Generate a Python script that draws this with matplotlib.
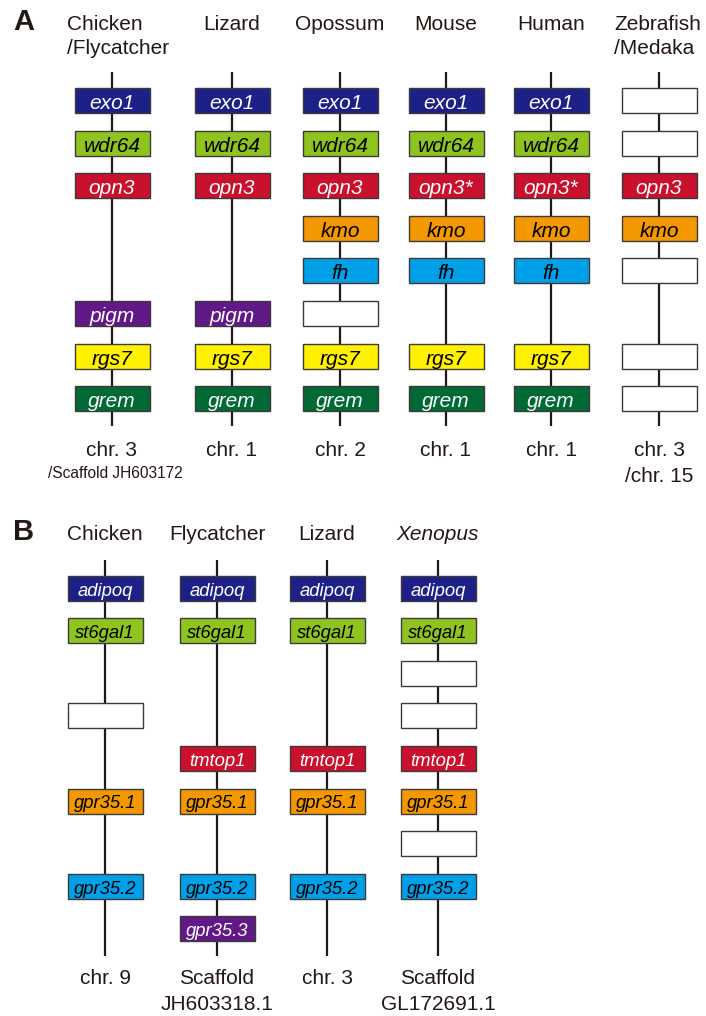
import matplotlib.pyplot as plt
from matplotlib.patches import Rectangle

plt.rcParams['font.family'] = ['Liberation Sans', 'DejaVu Sans']

# gene colours: (fill, text colour); None = unnamed gene (white box)
GENE_STYLE = {
    'exo1': ('#1d2087', 'white'), 'adipoq': ('#1d2087', 'white'),
    'wdr64': ('#8fc31f', 'black'), 'st6gal1': ('#8fc31f', 'black'),
    'opn3': ('#c9102c', 'white'), 'opn3*': ('#c9102c', 'white'),
    'tmtop1': ('#c9102c', 'white'),
    'kmo': ('#f39800', 'black'), 'gpr35.1': ('#f39800', 'black'),
    'fh': ('#00a0e9', 'black'), 'gpr35.2': ('#00a0e9', 'black'),
    'pigm': ('#601986', 'white'), 'gpr35.3': ('#601986', 'white'),
    'rgs7': ('#fff100', 'black'),
    'grem': ('#006934', 'white'),
    None: ('white', 'black'),
}

# ---- panel A: opn3 locus ----
a_species = ['Chicken\n/Flycatcher', 'Lizard', 'Opossum', 'Mouse', 'Human',
             'Zebrafish\n/Medaka']
a_chrom = ['chr. 3', 'chr. 1', 'chr. 2', 'chr. 1', 'chr. 1', 'chr. 3']
a_chrom2 = ['/Scaffold JH603172', '', '', '', '', '/chr. 15']
# (slot, gene) pairs, slot 0 = top
a_genes = [
    [(0, 'exo1'), (1, 'wdr64'), (2, 'opn3'), (5, 'pigm'), (6, 'rgs7'), (7, 'grem')],
    [(0, 'exo1'), (1, 'wdr64'), (2, 'opn3'), (5, 'pigm'), (6, 'rgs7'), (7, 'grem')],
    [(0, 'exo1'), (1, 'wdr64'), (2, 'opn3'), (3, 'kmo'), (4, 'fh'), (5, None),
     (6, 'rgs7'), (7, 'grem')],
    [(0, 'exo1'), (1, 'wdr64'), (2, 'opn3*'), (3, 'kmo'), (4, 'fh'),
     (6, 'rgs7'), (7, 'grem')],
    [(0, 'exo1'), (1, 'wdr64'), (2, 'opn3*'), (3, 'kmo'), (4, 'fh'),
     (6, 'rgs7'), (7, 'grem')],
    [(0, None), (1, None), (2, 'opn3'), (3, 'kmo'), (4, None), (6, None), (7, None)],
]

# ---- panel B: tmtop1 locus ----
b_species = ['Chicken', 'Flycatcher', 'Lizard', 'Xenopus']
b_chrom = ['chr. 9', 'Scaffold', 'chr. 3', 'Scaffold']
b_chrom2 = ['', 'JH603318.1', '', 'GL172691.1']
b_genes = [
    [(0, 'adipoq'), (1, 'st6gal1'), (3, None), (5, 'gpr35.1'), (7, 'gpr35.2')],
    [(0, 'adipoq'), (1, 'st6gal1'), (4, 'tmtop1'), (5, 'gpr35.1'), (7, 'gpr35.2'),
     (8, 'gpr35.3')],
    [(0, 'adipoq'), (1, 'st6gal1'), (4, 'tmtop1'), (5, 'gpr35.1'), (7, 'gpr35.2')],
    [(0, 'adipoq'), (1, 'st6gal1'), (2, None), (3, None), (4, 'tmtop1'),
     (5, 'gpr35.1'), (6, None), (7, 'gpr35.2')],
]

TEXT_C = '#231815'
LINE_C = '#231815'
EDGE_C = '#3e3a39'
BOX_W, BOX_H = 75, 25
STEP = 42.6


def draw_panel(ax, xs, species, chrom, chrom2, genes, *, title_y, line_top,
               line_bot, row0, chrom_y, gene_fs, title_left=None,
               italic_title=()):
    title_left = title_left or {}
    for i, x in enumerate(xs):
        style = 'italic' if species[i] in italic_title else 'normal'
        for k, line in enumerate(species[i].split('\n')):
            if i in title_left:
                ax.text(title_left[i], title_y + k * 24, line, ha='left',
                        va='center', fontsize=15, style=style, color=TEXT_C)
            else:
                ax.text(x, title_y + k * 24, line, ha='center', va='center',
                        fontsize=15, style=style, color=TEXT_C)
        ax.plot([x, x], [line_top, line_bot], color=LINE_C, lw=1.6,
                solid_capstyle='butt', zorder=1)
        for slot, gene in genes[i]:
            yc = row0 + slot * STEP
            fc, tc = GENE_STYLE[gene]
            ax.add_patch(Rectangle((x - BOX_W / 2, yc - BOX_H / 2), BOX_W, BOX_H,
                                   facecolor=fc, edgecolor=EDGE_C, lw=1.0,
                                   zorder=2))
            if gene:
                ax.text(x, yc + 1, gene, ha='center', va='center_baseline',
                        fontsize=gene_fs, style='italic', color=tc, zorder=3)
        ax.text(x, chrom_y, chrom[i], ha='center', va='center', fontsize=15,
                color=TEXT_C)
        if chrom2 and chrom2[i]:
            ax.text(x, chrom_y + 26, chrom2[i], ha='center', va='center',
                    fontsize=15, color=TEXT_C)


fig = plt.figure(figsize=(7.06, 10.16), dpi=100)
ax = fig.add_axes([0, 0, 1, 1])
ax.set_xlim(0, 706)
ax.set_ylim(1016, 0)
ax.axis('off')

ax.text(24, 22, 'A', fontsize=21, fontweight='bold', ha='center', va='center',
        color=TEXT_C)
a_x = [112, 232, 340, 446, 551, 659]
draw_panel(ax, a_x, a_species, a_chrom, None, a_genes, title_y=24,
           line_top=72, line_bot=426, row0=100.5, chrom_y=450, gene_fs=15,
           title_left={0: 67, 5: 614})
# second lines under the chr. labels of panel A (different sizes)
ax.text(115, 473, a_chrom2[0], ha='center', va='center', fontsize=11.2,
        color=TEXT_C)
ax.text(a_x[5], 476, a_chrom2[5], ha='center', va='center', fontsize=15,
        color=TEXT_C)

ax.text(24, 532, 'B', fontsize=21, fontweight='bold', ha='center', va='center',
        color=TEXT_C)
b_x = [105, 217, 327, 438]
draw_panel(ax, b_x, b_species, b_chrom, b_chrom2, b_genes, title_y=534,
           line_top=560, line_bot=956, row0=588, chrom_y=979, gene_fs=13.3,
           italic_title=('Xenopus',))

fig.savefig('out.png', dpi=100)
